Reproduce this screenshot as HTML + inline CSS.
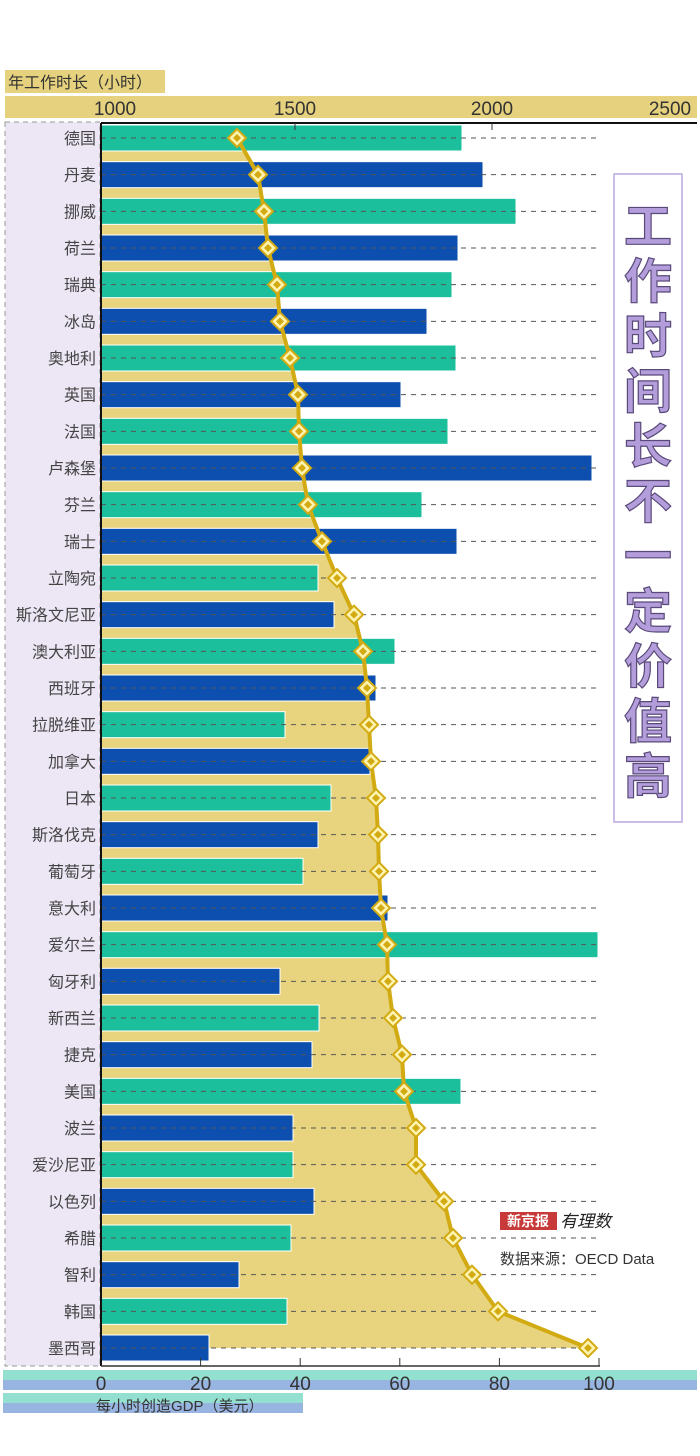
<!DOCTYPE html>
<html><head><meta charset="utf-8"><style>
body{margin:0;background:#fff;}
svg{display:block;font-family:"Liberation Sans","Noto Sans CJK SC",sans-serif;}
</style></head><body>
<svg id="s" width="700" height="1456" viewBox="0 0 700 1456" xmlns="http://www.w3.org/2000/svg">
<rect width="700" height="1456" fill="#fff"/>
<rect x="5" y="70" width="160" height="23" fill="#e6d27e"/>
<text x="8" y="88" font-size="16" fill="#333">年工作时长（小时）</text>
<rect x="5" y="96" width="692" height="22" fill="#e6d27e"/>
<text x="115" y="115" font-size="19" fill="#333" text-anchor="middle">1000</text>
<text x="295" y="115" font-size="19" fill="#333" text-anchor="middle">1500</text>
<text x="492" y="115" font-size="19" fill="#333" text-anchor="middle">2000</text>
<text x="670" y="115" font-size="19" fill="#333" text-anchor="middle">2500</text>
<rect x="5" y="122" width="95" height="1244" fill="#ece6f5" stroke="#999" stroke-dasharray="5 4"/>
<g id="g"></g>
<rect x="614" y="174" width="68" height="648" fill="#fff" stroke="#b8a8e0" stroke-width="1.5"/>
<g font-size="48" font-weight="bold" fill="#b39ddb" stroke="#5a4a7a" stroke-width="1.2" text-anchor="middle" font-family="'Noto Sans CJK SC',sans-serif">
<text x="648" y="243">工</text><text x="648" y="298">作</text><text x="648" y="353">时</text><text x="648" y="408">间</text><text x="648" y="463">长</text><text x="648" y="518">不</text><text x="648" y="573">一</text><text x="648" y="628">定</text><text x="648" y="683">价</text><text x="648" y="738">值</text><text x="648" y="793">高</text>
</g>
<rect x="500" y="1212" width="57" height="18" fill="#c83a3a"/>
<text x="528" y="1226" font-size="14" fill="#fff" text-anchor="middle" font-weight="bold">新京报</text>
<text x="560" y="1227" font-size="17" fill="#222" font-style="italic">有理数</text>
<text x="500" y="1264" font-size="15" fill="#333">数据来源：OECD Data</text>
<rect x="3" y="1370" width="694" height="10" fill="#93e0d0"/>
<rect x="3" y="1380" width="694" height="10" fill="#98b4e0"/>
<rect x="3" y="1393" width="300" height="10" fill="#93e0d0"/>
<rect x="3" y="1403" width="300" height="10" fill="#98b4e0"/>
<text x="96" y="1411" font-size="15" fill="#333">每小时创造GDP（美元）</text>
<g font-size="19" fill="#333" text-anchor="middle">
<text x="101" y="1390">0</text><text x="200.6" y="1390">20</text><text x="300.2" y="1390">40</text><text x="399.8" y="1390">60</text><text x="499.4" y="1390">80</text><text x="599" y="1390">100</text>
</g>
</svg>
<script>
var names=["德国","丹麦","挪威","荷兰","瑞典","冰岛","奥地利","英国","法国","卢森堡","芬兰","瑞士","立陶宛","斯洛文尼亚","澳大利亚","西班牙","拉脱维亚","加拿大","日本","斯洛伐克","葡萄牙","意大利","爱尔兰","匈牙利","新西兰","捷克","美国","波兰","爱沙尼亚","以色列","希腊","智利","韩国","墨西哥"];
var bars=[462,483,516,458,452,427,456,401,448,592,422,457,318,334,395,376,285,370,331,318,303,388,598,280,319,312,461,293,293,314,291,239,287,209];
var dx=[237,258,264,268,277,280,290,298,299,302,308,322,337,354,363,367,369,371,376,378,379,381,387,388,393,402,404,416,416,444,453,472,498,588];
var g=document.getElementById("g"),h="";
function Y(i){return 138+i*36.667;}
var pts="101,138 ";for(var i=0;i<34;i++)pts+=dx[i]+","+Y(i).toFixed(1)+" ";pts+="101,1348";
h+='<polygon points="'+pts+'" fill="#e8d47e"/>';
for(var i=0;i<34;i++){var y=Y(i);
h+='<rect x="101" y="'+(y-13)+'" width="'+(bars[i]-101)+'" height="26" fill="'+(i%2?"#0d4fae":"#1cbf9c")+'" stroke="#fff" stroke-width="1"/>';
h+='<line x1="101" x2="600" y1="'+y+'" y2="'+y+'" stroke="#555" stroke-width="1" stroke-dasharray="5 5"/>';
h+='<text x="96" y="'+(y+6)+'" font-size="16" fill="#444" text-anchor="end">'+names[i]+'</text>';}
var lp="";for(var i=0;i<34;i++)lp+=dx[i]+","+Y(i).toFixed(1)+" ";
h+='<polyline points="'+lp+'" fill="none" stroke="#d2aa12" stroke-width="4"/>';
for(var i=0;i<34;i++){var x=dx[i],y=Y(i);
h+='<polygon points="'+x+','+(y-9)+' '+(x+9)+','+y+' '+x+','+(y+9)+' '+(x-9)+','+y+'" fill="#fff3b0" stroke="#d2aa12" stroke-width="2"/>';
h+='<polygon points="'+x+','+(y-4)+' '+(x+4)+','+y+' '+x+','+(y+4)+' '+(x-4)+','+y+'" fill="#d2aa12"/>';}
h+='<line x1="101" y1="123" x2="101" y2="1366" stroke="#111" stroke-width="2"/>';
h+='<line x1="101" y1="123" x2="697" y2="123" stroke="#111" stroke-width="2"/>';
h+='<line x1="101" y1="1366" x2="600" y2="1366" stroke="#333" stroke-width="1.5"/>';
for(var v=20;v<=100;v+=20){var x=101+4.98*v;h+='<line x1="'+x+'" x2="'+x+'" y1="1358" y2="1366" stroke="#333"/>';}
[295,492].forEach(function(x){h+='<line x1="'+x+'" x2="'+x+'" y1="123" y2="130" stroke="#333"/>';});
g.innerHTML=h;
</script>
</body></html>
